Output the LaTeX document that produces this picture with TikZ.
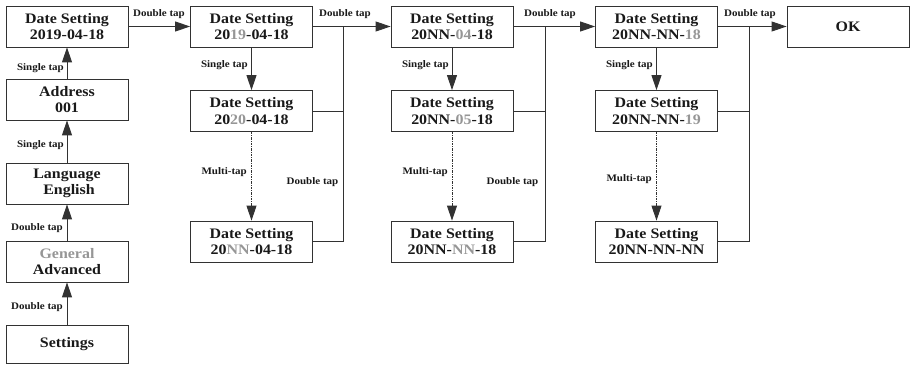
\documentclass[tikz,border=0pt]{standalone}
\usepackage{fontspec}
\setmainfont{Liberation Serif}[FakeStretch=1.1]
\usetikzlibrary{arrows.meta}
\definecolor{hl}{RGB}{150,150,150}
\definecolor{ln}{RGB}{50,50,50}
\newcommand{\g}[1]{\textcolor{hl}{#1}}
\tikzset{
  box/.style={draw=ln, line width=0.8pt, minimum width=122pt, minimum height=41pt, inner sep=0pt, align=center,
    font=\fontsize{14.5}{16.5}\selectfont\bfseries, text=black!90},
  lbl/.style={font=\fontsize{10}{11}\selectfont\bfseries, text=black!90, inner sep=0pt},
  conn/.style={draw=ln, line width=0.9pt},
  arr/.style={conn, -{Triangle[length=15pt,width=10pt]}},
  darr/.style={arr, dash pattern=on 2.5pt off 1pt on 1pt off 1pt},
}
\begin{document}
\begin{tikzpicture}[x=1pt,y=-1pt]
\useasboundingbox (0,0) rectangle (912,364);
% left column
\node[box] (A) at (67,26.5) {Date Setting\\2019-04-18};
\node[box] (Ad) at (67,99.5) {Address\\001};
\node[box] (L) at (67,183.5) {Language\\\ English};
\node[box] (G) at (67,261.5) {\g{General}\\Advanced};
\node[box, minimum height=38pt] (S) at (67,344) {Settings};
% column 2
\node[box] (B1) at (251.5,26.5) {Date Setting\\20\g{19}-04-18};
\node[box] (B2) at (251.5,111) {Date Setting\\20\g{20}-04-18};
\node[box] (B3) at (251.5,241.5) {Date Setting\\20\g{NN}-04-18};
% column 3
\node[box] (C1) at (452,26.5) {Date Setting\\20NN-\g{04}-18};
\node[box] (C2) at (452,111) {Date Setting\\20NN-\g{05}-18};
\node[box] (C3) at (452,241.5) {Date Setting\\20NN-\g{NN}-18};
% column 4
\node[box] (D1) at (656.5,26.5) {Date Setting\\20NN-NN-\g{18}};
\node[box] (D2) at (656.5,111) {Date Setting\\20NN-NN-\g{19}};
\node[box] (D3) at (656.5,241.5) {Date Setting\\20NN-NN-NN};
% OK
\node[box] (OK) at (848,26.5) {OK};
% merge points
\coordinate (m2) at (343,26.5);
\coordinate (m3) at (545,26.5);
\coordinate (m4) at (749,26.5);
% left column connectors
\draw[arr] (S) -- (G);
\draw[arr] (G) -- (L);
\draw[arr] (L) -- (Ad);
\draw[arr] (Ad) -- (A);
\draw[arr] (A) -- (B1);
\node[lbl, anchor=east] at (63,307) {Double tap};
\node[lbl, anchor=east] at (63,228) {Double tap};
\node[lbl, anchor=east] at (64,145) {Single tap};
\node[lbl, anchor=east] at (64,68) {Single tap};
\node[lbl] at (159,14) {Double tap};
% column 2
\draw[arr] (B1) -- (B2);
\draw[darr] (B2) -- (B3);
\draw[conn] (B1.east) -- (m2);
\draw[conn] (B2.east) -- (B2.east -| m2);
\draw[conn] (B3.east) -| (m2);
\draw[arr] (m2) -- (C1);
\node[lbl, anchor=east] at (248,65) {Single tap};
\node[lbl, anchor=east] at (247,172) {Multi-tap};
\node[lbl] at (312.5,182) {Double tap};
\node[lbl] at (345,14) {Double tap};
% column 3
\draw[arr] (C1) -- (C2);
\draw[darr] (C2) -- (C3);
\draw[conn] (C1.east) -- (m3);
\draw[conn] (C2.east) -- (C2.east -| m3);
\draw[conn] (C3.east) -| (m3);
\draw[arr] (m3) -- (D1);
\node[lbl, anchor=east] at (449,65) {Single tap};
\node[lbl, anchor=east] at (448,172) {Multi-tap};
\node[lbl] at (512.5,182) {Double tap};
\node[lbl] at (550,14) {Double tap};
% column 4
\draw[arr] (D1) -- (D2);
\draw[darr] (D2) -- (D3);
\draw[conn] (D1.east) -- (m4);
\draw[conn] (D2.east) -- (D2.east -| m4);
\draw[conn] (D3.east) -| (m4);
\draw[arr] (m4) -- (OK);
\node[lbl, anchor=east] at (653,65) {Single tap};
\node[lbl, anchor=east] at (652,179) {Multi-tap};
\node[lbl] at (750,14) {Double tap};
\end{tikzpicture}
\end{document}
